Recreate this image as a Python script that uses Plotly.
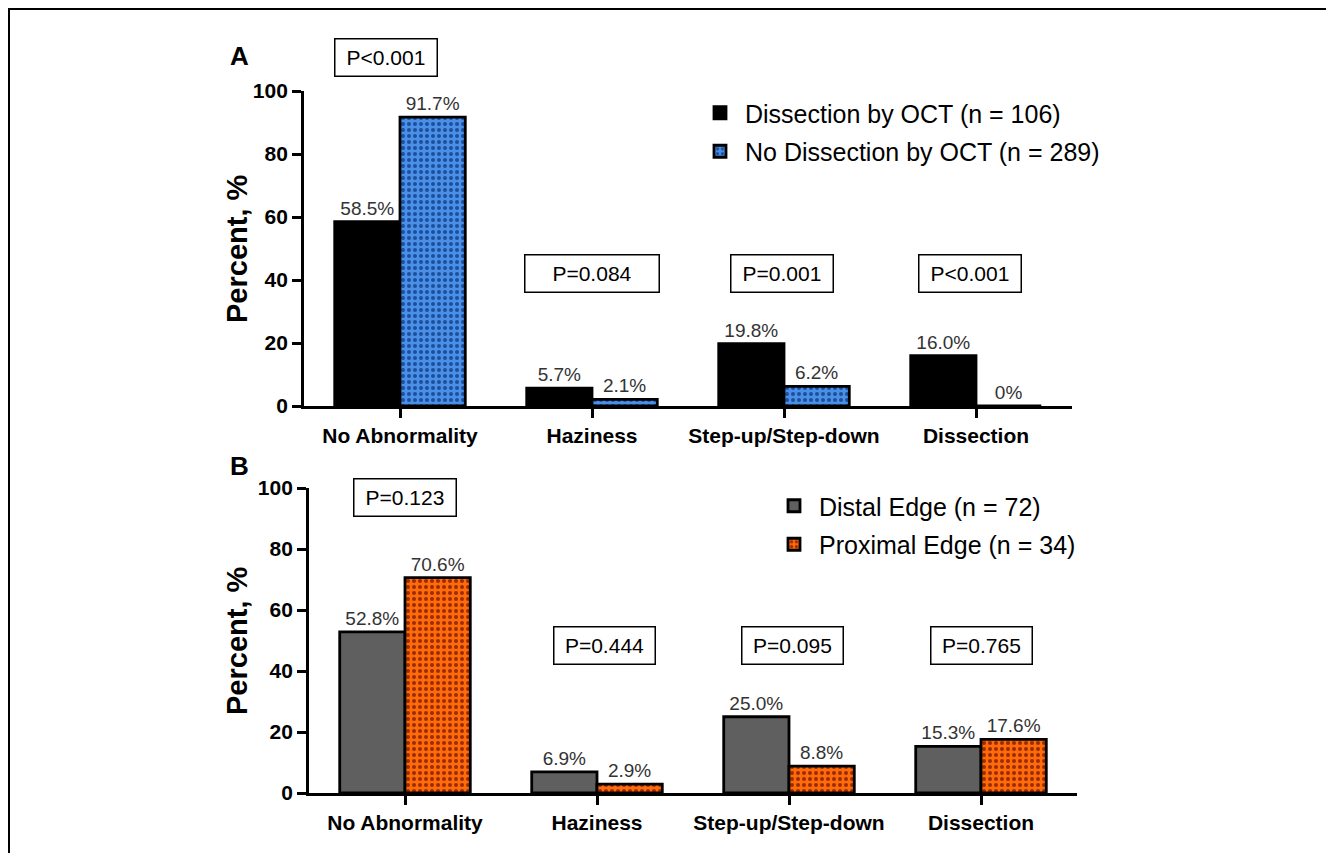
import plotly.graph_objects as go

categories = ["No Abnormality", "Haziness", "Step-up/Step-down", "Dissection"]

# Panel A
a_names = ["Dissection by OCT (n = 106)", "No Dissection by OCT (n = 289)"]
a_dissection = [58.5, 5.7, 19.8, 16.0]
a_no_dissection = [91.7, 2.1, 6.2, 0.0]
a_labels_1 = ["58.5%", "5.7%", "19.8%", "16.0%"]
a_labels_2 = ["91.7%", "2.1%", "6.2%", "0%"]
a_pvalues = ["P<0.001", "P=0.084", "P=0.001", "P<0.001"]

# Panel B
b_names = ["Distal Edge (n = 72)", "Proximal Edge (n = 34)"]
b_distal = [52.8, 6.9, 25.0, 15.3]
b_proximal = [70.6, 2.9, 8.8, 17.6]
b_labels_1 = ["52.8%", "6.9%", "25.0%", "15.3%"]
b_labels_2 = ["70.6%", "2.9%", "8.8%", "17.6%"]
b_pvalues = ["P=0.123", "P=0.444", "P=0.095", "P=0.765"]

y_ticks = [0, 20, 40, 60, 80, 100]

FONT = "Arial, Liberation Sans, sans-serif"
OX, OY = 8, 8            # page body margin
W, H = 1326, 845         # figure size so that it fits the 1334x853 window


def px_x(p):
    return (p - OX) / W


def px_y(p):
    return 1 - (p - OY) / H


# P-value box placement (layout only)
a_p_pos = [(-0.075, None, px_y(58)), (1.0, 42.2, None), (1.99, 42.2, None), (2.97, 42.2, None)]
a_p_w = [95, 127, 95, 95]
b_p_pos = [(0.0, 97.0, None), (1.04, 48.4, None), (2.02, 48.4, None), (3.0, 48.4, None)]
b_p_w = [95, 94, 94, 94]

fig = go.Figure()


def bar(x, y, text, name, color, pattern, xa, ya, legend, group):
    return go.Bar(
        x=x, y=y, name=name, text=text, textposition="outside",
        textfont=dict(family=FONT, size=19, color="#333333"),
        cliponaxis=False, legendgroup=group,
        marker=dict(color=color, line=dict(color="black", width=2.8), pattern=pattern),
        xaxis=xa, yaxis=ya, legend=legend,
    )


pat_blue = dict(shape=".", fgcolor="#1d4f9a", bgcolor="#4a8fe8", size=6, solidity=0.35, fillmode="replace")
pat_orange = dict(shape=".", fgcolor="#9c2c00", bgcolor="#ff6a0a", size=6, solidity=0.35, fillmode="replace")

fig.add_trace(bar(categories, a_dissection, a_labels_1, a_names[0], "#000000", None, "x", "y", "legend", "a1"))
fig.add_trace(bar(categories, a_no_dissection, a_labels_2, a_names[1], "#4a8fe8", pat_blue, "x", "y", "legend", "a2"))
fig.add_trace(bar(categories, b_distal, b_labels_1, b_names[0], "#5f5f5f", None, "x2", "y2", "legend2", "b1"))
fig.add_trace(bar(categories, b_proximal, b_labels_2, b_names[1], "#ff6a0a", pat_orange, "x2", "y2", "legend2", "b2"))

xaxis_common = dict(
    type="category", showline=True, linecolor="black", linewidth=2.8,
    ticks="outside", ticklen=9, tickwidth=2.8, tickcolor="black",
    tickfont=dict(family=FONT, size=21, color="black", weight="bold"),
    showgrid=False, zeroline=False, fixedrange=True, automargin=False,
    range=[-0.5, 3.5],
)
yaxis_common = dict(
    range=[0, 100], tickvals=y_ticks, showline=True, linecolor="black", linewidth=2.8,
    ticks="outside", ticklen=9, tickwidth=2.8, tickcolor="black",
    tickfont=dict(family=FONT, size=21, color="black", weight="bold"),
    showgrid=False, zeroline=False, automargin=False, fixedrange=True,
)

legend_common = dict(
    xanchor="left", yanchor="top",
    font=dict(family=FONT, size=25, color="black"), bgcolor="rgba(0,0,0,0)",
    itemwidth=40, tracegroupgap=3,
)

fig.update_layout(
    width=W, height=H,
    margin=dict(l=0, r=0, t=0, b=0, autoexpand=False),
    paper_bgcolor="white", plot_bgcolor="white",
    barmode="group", bargap=0.32, bargroupgap=0,
    xaxis=dict(**xaxis_common, domain=[px_x(304), px_x(1072)], anchor="y"),
    yaxis=dict(**yaxis_common, domain=[px_y(406), px_y(91)], anchor="x"),
    xaxis2=dict(**xaxis_common, domain=[px_x(309), px_x(1077)], anchor="y2"),
    yaxis2=dict(**yaxis_common, domain=[px_y(793), px_y(488)], anchor="x2"),
    legend=dict(**legend_common, x=px_x(695), y=px_y(90)),
    legend2=dict(**legend_common, x=px_x(769), y=px_y(483)),
    showlegend=True,
)

annotations = []
for t, (x, y, py), w in zip(a_pvalues, a_p_pos, a_p_w):
    annotations.append(dict(text=t, x=x, y=(py if py is not None else y), xref="x",
                            yref=("paper" if py is not None else "y"), showarrow=False,
                            xanchor="center", yanchor="middle",
                            font=dict(family=FONT, size=21, color="black"),
                            bordercolor="black", borderwidth=1.5, borderpad=3,
                            width=w, height=30, bgcolor="white"))
for t, (x, y, py), w in zip(b_pvalues, b_p_pos, b_p_w):
    annotations.append(dict(text=t, x=x, y=y, xref="x2", yref="y2", showarrow=False,
                            xanchor="center", yanchor="middle",
                            font=dict(family=FONT, size=21, color="black"),
                            bordercolor="black", borderwidth=1.5, borderpad=3,
                            width=w, height=30, bgcolor="white"))
panel_labels = [("A", 240, 56), ("B", 240, 466)]
for t, x, y in panel_labels:
    annotations.append(dict(text=t, x=px_x(x), y=px_y(y), xref="paper", yref="paper",
                            xanchor="center", yanchor="middle", showarrow=False,
                            font=dict(family=FONT, size=26, color="black", weight="bold")))
for y in (249, 641):
    annotations.append(dict(text="Percent, %", x=px_x(237), y=px_y(y), xref="paper", yref="paper",
                            textangle=-90, showarrow=False, xanchor="center", yanchor="middle",
                            font=dict(family=FONT, size=29, color="black", weight="bold")))
fig.update_layout(annotations=annotations)

fig.add_shape(type="rect", xref="paper", yref="paper",
              x0=px_x(9), x1=px_x(1327), y0=-0.02, y1=px_y(9),
              line=dict(color="black", width=2), fillcolor="rgba(0,0,0,0)", layer="below")

fig.write_html("out.html")
